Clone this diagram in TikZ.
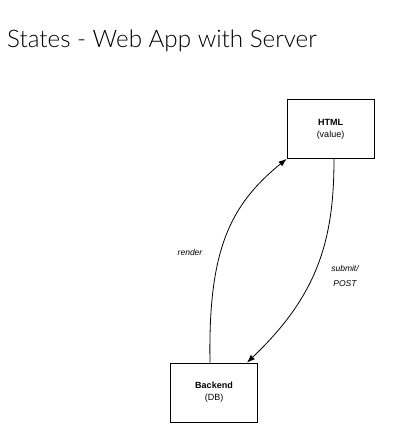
\documentclass[tikz,border=0pt]{standalone}
\usepackage{fontspec}
\setmainfont{Liberation Sans}
\newfontfamily\titlefont{Lato Light}
\usetikzlibrary{arrows.meta,positioning}

\begin{document}
\begin{tikzpicture}[
  x=1pt, y=-1pt,
  box/.style={draw, line width=0.8pt, minimum width=87pt, minimum height=59pt,
    align=center, font=\fontsize{9}{12}\selectfont},
  arr/.style={-{Latex[length=8pt,width=6pt]}, line width=0.8pt},
  lbl/.style={font=\fontsize{8.5}{15}\selectfont\itshape, align=center}
]
  \useasboundingbox (0,0) rectangle (404,433);

  % Title
  \node[anchor=base west, inner sep=0pt, font=\titlefont\fontsize{24.2}{28}\selectfont]
    (title) at (7,48) {States - Web App with Server};

  % States
  \node[box] (html) at (330.5,129) {\textbf{HTML}\\(value)};
  \node[box] (backend) at (214,392.5) {\textbf{Backend}\\(DB)};

  % Arrows
  \draw[arr] ([xshift=-4pt]backend.north) .. controls (208,250) and (230,205) .. (html.south west);
  \draw[arr] ([xshift=3.5pt]html.south) .. controls (334,240) and (318,295) .. ([xshift=33pt]backend.north);

  % Labels
  \node[lbl] (render) at (190,252) {render};
  \node[lbl] (submit) at (345,276) {submit/\\POST};
\end{tikzpicture}
\end{document}
